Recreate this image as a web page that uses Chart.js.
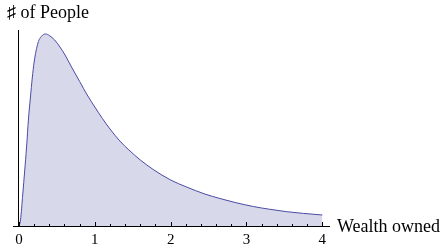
<!DOCTYPE html>
<html>
<head>
<meta charset="utf-8">
<script src="https://cdn.jsdelivr.net/npm/chart.js@4/dist/chart.umd.min.js"></script>
<style>
  body { margin: 0; background: #fff; }
  canvas { display: block; }
</style>
</head>
<body>
<canvas id="wealth" width="446" height="249"></canvas>
<script>
// wealth owned (x) and number of people (relative height)
const wealth = [0, 0.02, 0.05, 0.075, 0.1, 0.125, 0.15, 0.175, 0.2, 0.25, 0.3, 0.35, 0.4, 0.47, 0.54, 0.6, 0.7, 0.8, 0.9, 1.0,
  1.1, 1.2, 1.33, 1.45, 1.6, 1.77, 2.0, 2.21, 2.45, 2.65, 2.85, 3.09, 3.3, 3.53, 3.75, 4.0];
const people = [0, 6, 32, 55, 79, 107, 128, 148, 164, 183, 190, 192, 190.5, 186, 179, 172, 158, 144.5, 131, 119,
  107.5, 97, 85, 76, 66, 56.5, 46, 39, 32, 27.5, 23.5, 19.5, 16.8, 14.3, 12.6, 11];
const tickLabels = [0, 1, 2, 3, 4];
const yLabel = '\u266F of People';
const xLabel = 'Wealth owned';

const serif = '"Liberation Serif", "Times New Roman", serif';

let axesPlugin = {
  id: 'axesPlugin',
  afterDraw(chart) {
    const ctx = chart.ctx;
    const area = chart.chartArea;
    const xs = chart.scales.x;
    ctx.save();
    ctx.strokeStyle = '#000';
    ctx.lineWidth = 1;
    // vertical axis at x = 0
    let x0 = Math.round(xs.getPixelForValue(0)) - 0.5;
    ctx.beginPath();
    ctx.moveTo(x0, area.top);
    ctx.lineTo(x0, area.bottom);
    ctx.stroke();
    // inward tick marks on the horizontal axis
    xs.ticks.forEach((t) => {
      let px = Math.round(xs.getPixelForValue(t.value)) + 0.5;
      let major = Math.abs(t.value - Math.round(t.value)) < 1e-6;
      ctx.beginPath();
      ctx.moveTo(px, area.bottom);
      ctx.lineTo(px, area.bottom - (major ? 4 : 2));
      ctx.stroke();
    });
    ctx.fillStyle = '#000';
    ctx.font = '18px ' + serif;
    ctx.textBaseline = 'alphabetic';
    ctx.fillText(yLabel, 7, 18);
    ctx.fillText(xLabel, 337, 232);
    ctx.restore();
  }
};

const data = {
  datasets: [{
    data: wealth.map((w, i) => ({x: w, y: people[i]})),
    borderColor: '#4a4aa3',
    borderWidth: 1,
    backgroundColor: 'rgb(216,216,235)',
    fill: 'origin',
    pointRadius: 0,
    cubicInterpolationMode: 'monotone'
  }]
};

const config = {
  type: 'line',
  data: data,
  options: {
    responsive: false,
    animation: false,
    layout: { padding: { left: 13, right: 117, top: 30, bottom: 3 } },
    plugins: { legend: { display: false }, tooltip: { enabled: false } },
    scales: {
      x: {
        type: 'linear',
        min: -0.079,
        max: 4.088,
        z: 1,
        afterFit: (scale) => { scale.height = 20; },
        grid: { display: false, drawTicks: false },
        border: { display: true, color: '#000', width: 1 },
        ticks: {
          stepSize: 0.2,
          includeBounds: false,
          autoSkip: false,
          maxRotation: 0,
          padding: 5,
          color: '#000',
          font: { family: serif, size: 15 },
          callback: (v) => tickLabels.find((t) => Math.abs(t - v) < 1e-6) !== undefined ? Math.round(v) : ''
        }
      },
      y: {
        display: false,
        min: 0,
        max: 196
      }
    }
  },
  plugins: [axesPlugin]
};

const myChart = new Chart(document.getElementById('wealth'), config);
</script>
</body>
</html>
